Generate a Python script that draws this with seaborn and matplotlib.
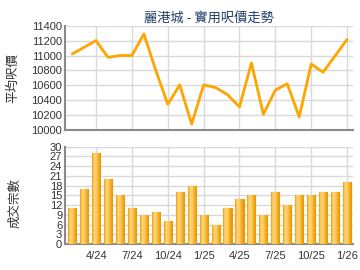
import numpy as np
import pandas as pd
import matplotlib
matplotlib.use("Agg")
import matplotlib.pyplot as plt
import seaborn as sns
from matplotlib.colors import LinearSegmentedColormap

months = ["2/24", "3/24", "4/24", "5/24", "6/24", "7/24", "8/24", "9/24", "10/24", "11/24", "12/24",
          "1/25", "2/25", "3/25", "4/25", "5/25", "6/25", "7/25", "8/25", "9/25", "10/25", "11/25",
          "12/25", "1/26"]
price = [11020, 11110, 11200, 10975, 11000, 11000, 11290, 10800, 10345, 10605, 10080,
         10605, 10570, 10475, 10310, 10900, 10210, 10535, 10620, 10175, 10885, 10775,
         10995, 11215]
deals = [11, 17, 28, 20, 15, 11, 9, 10, 7, 16, 18, 9, 6, 11, 14, 15, 9, 16, 12, 15, 15, 16, 16, 19]
tick_labels = ["4/24", "7/24", "10/24", "1/25", "4/25", "7/25", "10/25", "1/26"]

title = "麗港城 - 實用呎價走勢"
ylabel_top = "平均呎價"
ylabel_bot = "成交宗數"

df = pd.DataFrame({"month": months, "idx": np.arange(len(months)), "price": price, "deals": deals})

sns.set_theme(style="white")
plt.rcParams["font.family"] = ["Liberation Sans", "Noto Sans CJK TC", "DejaVu Sans"]

fig = plt.figure(figsize=(3.6, 2.7), dpi=100)
ax1 = fig.add_axes([65 / 360, 1 - 130 / 270, 288 / 360, (130 - 25.7) / 270])
ax2 = fig.add_axes([65 / 360, 1 - 244 / 270, 288 / 360, (244 - 146.7) / 270])

xlim = (-0.6, 23.5)
tick_pos = [months.index(t) for t in tick_labels]
grid_c = "#d9d9d9"
spine_c = "#8a8a8a"
text_c = "#333333"

# top line chart
sns.lineplot(data=df, x="idx", y="price", ax=ax1, color="#FFA500", linewidth=2.0, zorder=3)
ax1.set_xlim(*xlim)
ax1.set_ylim(10000, 11400)
ax1.set_yticks(np.arange(10000, 11401, 200))
ax1.set_xticks(tick_pos)
ax1.set_xticklabels([])
ax1.tick_params(axis="x", length=0)
ax1.tick_params(axis="y", length=0, labelsize=8, colors=text_c, pad=2)
ax1.grid(True, color=grid_c, linewidth=1)
ax1.set_xlabel("")
ax1.set_ylabel(ylabel_top, fontsize=9, color=text_c, family=["Noto Sans CJK TC"])
ax1.yaxis.set_label_coords(-0.160, 0.5)
ax1.set_title(title, fontsize=9.5, color="#1f3f66", family=["Noto Sans CJK TC", "DejaVu Sans"], pad=3)

# bottom bar chart
sns.barplot(data=df, x="idx", y="deals", ax=ax2, color="#F7B533", width=0.68,
            edgecolor="#E89A00", linewidth=0.8, zorder=3, native_scale=True)
cmap = LinearSegmentedColormap.from_list("g", ["#EFA010", "#FFD47E", "#FFCB60", "#F4AC22", "#E89600"])
grad = np.linspace(0, 1, 64).reshape(1, -1)
for p in ax2.patches:
    x0, y0 = p.get_x(), p.get_y()
    w, h = p.get_width(), p.get_height()
    im = ax2.imshow(grad, cmap=cmap, extent=[x0, x0 + w, y0, y0 + h], aspect="auto", zorder=3.5)
    im.set_clip_path(p)
ax2.set_xlim(*xlim)
ax2.set_ylim(0, 30)
ax2.set_yticks(np.arange(0, 31, 3))
ax2.set_xticks(tick_pos)
ax2.set_xticklabels(tick_labels)
ax2.tick_params(axis="x", length=3, width=1, color=spine_c, labelsize=8, colors=text_c, pad=2)
ax2.tick_params(axis="y", length=0, labelsize=8, colors=text_c, pad=2)
for lab in ax2.get_yticklabels():
    lab.set_family(["Liberation Sans Narrow", "Liberation Sans"])
ax2.grid(True, color=grid_c, linewidth=1)
ax2.set_xlabel("")
ax2.set_ylabel(ylabel_bot, fontsize=9, color=text_c, family=["Noto Sans CJK TC"])
ax2.yaxis.set_label_coords(-0.153, 0.42)

for ax in (ax1, ax2):
    ax.set_axisbelow(True)
    for s in ("top", "right"):
        ax.spines[s].set_visible(False)
    for s in ("left", "bottom"):
        ax.spines[s].set_color(spine_c)
        ax.spines[s].set_linewidth(1.5)
    ax.set_facecolor("white")

fig.savefig("out.png", dpi=100, facecolor="white")
